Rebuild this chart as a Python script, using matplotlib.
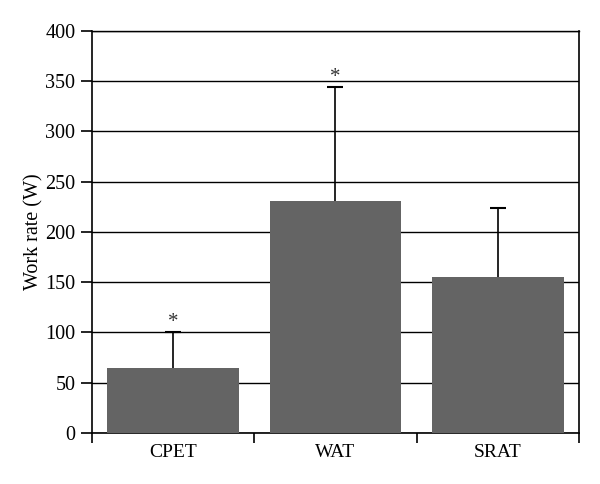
import matplotlib
matplotlib.use('Agg')
import matplotlib.pyplot as plt
import numpy as np

categories = ['CPET', 'WAT', 'SRAT']
work_rate = [64.5, 231, 155.5]
err_upper = [36.3, 113.5, 68.7]
significant = [True, True, False]

plt.rcParams['font.family'] = ['Liberation Serif', 'DejaVu Serif']

fig = plt.figure(figsize=(6, 4.84), dpi=100)
ax = fig.add_axes([0.1533, 0.1054, 0.8117, 0.8306])

x = np.arange(len(categories))
ax.bar(x, work_rate, width=0.81, color='#646464', zorder=3)
eb = ax.errorbar(x, work_rate, yerr=[np.zeros(len(x)), err_upper], fmt='none',
                 ecolor='black', elinewidth=1.2, capsize=6, capthick=1.5, zorder=4)
# only the upper caps
eb[1][0].set_visible(False)

for xi, v, e, sig in zip(x, work_rate, err_upper, significant):
    if sig:
        ax.annotate('*', (xi, v + e), xytext=(0, 0), textcoords='offset points',
                    ha='center', va='bottom', fontsize=15, color='#333333')

ax.set_xlim(-0.5, len(categories) - 0.5)
ax.set_ylim(0, 400)
ax.set_yticks(np.arange(0, 401, 50))
ax.yaxis.grid(True, color='black', linewidth=1.0, zorder=0)
ax.set_axisbelow(True)

# category boundary ticks on x axis
ax.set_xticks(np.arange(-0.5, len(categories), 1.0))
ax.set_xticklabels([])
ax.set_xticks(x, minor=True)
ax.set_xticklabels(categories, minor=True)
ax.tick_params(axis='x', which='minor', length=0, pad=8, labelsize=14)
ax.tick_params(axis='x', which='major', direction='out', length=7, width=1.2)
ax.tick_params(axis='y', direction='out', length=8, width=1.2, labelsize=14.5, pad=4)

for side in ['left', 'right', 'bottom']:
    ax.spines[side].set_linewidth(1.2)
ax.spines['top'].set_linewidth(1.0)

ax.set_ylabel('Work rate (W)', fontsize=14.5, labelpad=1)

plt.savefig('out.png', dpi=100)
